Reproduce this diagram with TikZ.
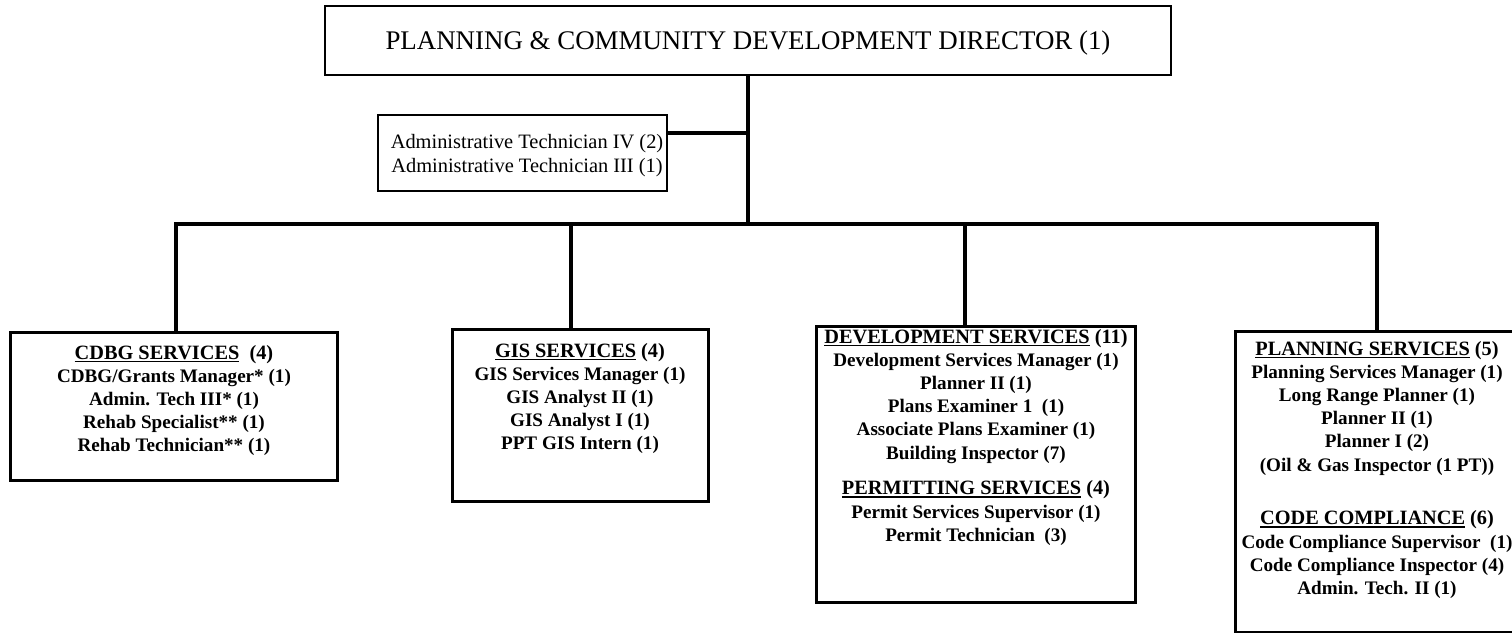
\documentclass[tikz,border=0pt]{standalone}
\usepackage{fontspec}
\setmainfont{Liberation Serif}
\newcommand\hdul[1]{\setbox0\hbox{#1}\rlap{\rule[-3.2bp]{\wd0}{1.7bp}}\box0\relax}
\newcommand\hdfont{\fontsize{20.4}{23.3}\selectfont}
\begin{document}
\begin{tikzpicture}[x=1bp,y=-1bp,
  conn/.style={line width=3.2bp},
  topbox/.style={draw, line width=2.2bp, inner sep=0pt},
  deptbox/.style={draw, line width=3bp, inner sep=0pt},
  body/.style={inner sep=0pt, align=center, anchor=north,
    font=\fontsize{19.2}{23.3}\selectfont\bfseries},
  admtext/.style={inner sep=0pt, align=center, anchor=north,
    font=\fontsize{20.5}{24}\selectfont}
]
\path[use as bounding box, clip] (0,0) rectangle (1512,633);

% director
\node[topbox, minimum width=846bp, minimum height=69bp,
      font=\fontsize{27}{30}\selectfont, text height=18bp, text depth=0pt]
  (dir) at (748,40.5) {PLANNING \& COMMUNITY DEVELOPMENT DIRECTOR (1)};

% admin
\node[topbox, minimum width=289bp, minimum height=76bp] (admin) at (522.5,153) {};
\node[admtext] (admtxt) at (527,134)
  {Administrative Technician IV (2)\\Administrative Technician III (1)};

% departments
\node[deptbox, minimum width=326bp, minimum height=148bp] (cdbg) at (174,406) {};
\node[body] (cdbgtxt) at (174,344.7)
  {{\hdfont\hdul{CDBG SERVICES}\ \ (4)}\\
   CDBG/Grants Manager* (1)\\
   Admin. Tech III* (1)\\
   Rehab Specialist** (1)\\
   Rehab Technician** (1)};

\node[deptbox, minimum width=256bp, minimum height=172bp] (gis) at (580,415) {};
\node[body] (gistxt) at (580,342.7)
  {{\hdfont\hdul{GIS SERVICES} (4)}\\
   GIS Services Manager (1)\\
   GIS Analyst II (1)\\
   GIS Analyst I (1)\\
   PPT GIS Intern (1)};

\node[deptbox, minimum width=319bp, minimum height=276bp] (dev) at (975.5,464) {};
\node[body] (devtxt) at (976,328.7)
  {{\hdfont\hdul{DEVELOPMENT SERVICES} (11)}\\
   Development Services Manager (1)\\
   Planner II (1)\\
   Plans Examiner 1\ \ (1)\\
   Associate Plans Examiner (1)\\
   Building Inspector (7)\\[12.7bp]
   {\hdfont\hdul{PERMITTING SERVICES} (4)}\\
   Permit Services Supervisor (1)\\
   Permit Technician\ \ (3)};

\node[deptbox, minimum width=284bp, minimum height=301bp] (plan) at (1377,481.5) {};
\node[body] (plantxt) at (1377,340.7)
  {{\hdfont\hdul{PLANNING SERVICES} (5)}\\
   Planning Services Manager (1)\\
   Long Range Planner (1)\\
   Planner II (1)\\
   Planner I (2)\\
   (Oil \& Gas Inspector (1 PT))\\[30.7bp]
   {\hdfont\hdul{CODE COMPLIANCE} (6)}\\
   Code Compliance Supervisor\ \ (1)\\
   Code Compliance Inspector (4)\\
   Admin. Tech. II (1)};

% connectors
\coordinate (tb) at (748,224);
\coordinate (aj) at (748,133);
\coordinate (b1) at (176,224);
\coordinate (b2) at (571,224);
\coordinate (b3) at (965,224);
\coordinate (b4) at (1377,224);

\draw[conn] (dir.south) -- (tb);
\draw[conn] (aj) -- (aj -| admin.east);
\draw[conn] (b1 |- cdbg.north) -- (b1) -- (b4) -- (b4 |- plan.north);
\draw[conn] (b2) -- (b2 |- gis.north);
\draw[conn] (b3) -- (b3 |- dev.north);
\end{tikzpicture}
\end{document}
